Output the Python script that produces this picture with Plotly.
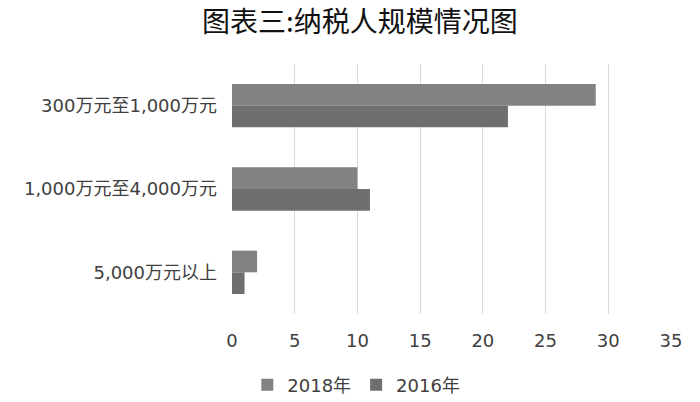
import plotly.graph_objects as go

categories = ["300万元至1,000万元", "1,000万元至4,000万元", "5,000万元以上"]
values_2018 = [29, 10, 2]
values_2016 = [22, 11, 1]
x_ticks = [0, 5, 10, 15, 20, 25, 30, 35]

FONT = "DejaVu Sans, Noto Sans CJK SC"

fig = go.Figure()
fig.add_trace(go.Bar(y=categories, x=values_2018, name="2018年", orientation="h",
                     marker=dict(color="#828282", line=dict(width=0))))
fig.add_trace(go.Bar(y=categories, x=values_2016, name="2016年", orientation="h",
                     marker=dict(color="#6f6f6f", line=dict(width=0))))

fig.update_layout(
    width=700, height=402,
    margin=dict(l=232, r=29, t=64, b=88),
    paper_bgcolor="white", plot_bgcolor="white",
    font=dict(family=FONT, size=18, color="#404040"),
    title=dict(text="图表三:纳税人规模情况图", x=0.514, xanchor="center", xref="container",
               y=0.945, yanchor="middle", yref="container",
               font=dict(family="Noto Sans CJK SC", size=28, color="#111111")),
    barmode="group", bargap=0.48, bargroupgap=0,
    showlegend=True,
    legend=dict(orientation="h", x=0.509, xanchor="center", xref="container",
                y=0.042, yanchor="middle", yref="container",
                font=dict(size=18, color="#404040"), itemwidth=30,
                traceorder="normal"),
    xaxis=dict(range=[0, 35], tickvals=x_ticks, showgrid=True, gridcolor="#d9d9d9",
               gridwidth=1, zeroline=False, showline=False, ticks="", automargin=False,
               ticklabelstandoff=14, tickfont=dict(size=18, color="#404040")),
    yaxis=dict(autorange="reversed", showgrid=False, showline=False, ticks="",
               automargin=False, ticklabelstandoff=14,
               tickfont=dict(size=18, color="#404040")),
)

# page has a default 8px body margin; drop it so the figure sits at 0,0
fig.write_html("out.html", config={"displayModeBar": False},
               post_script="document.body.style.margin='0';")
